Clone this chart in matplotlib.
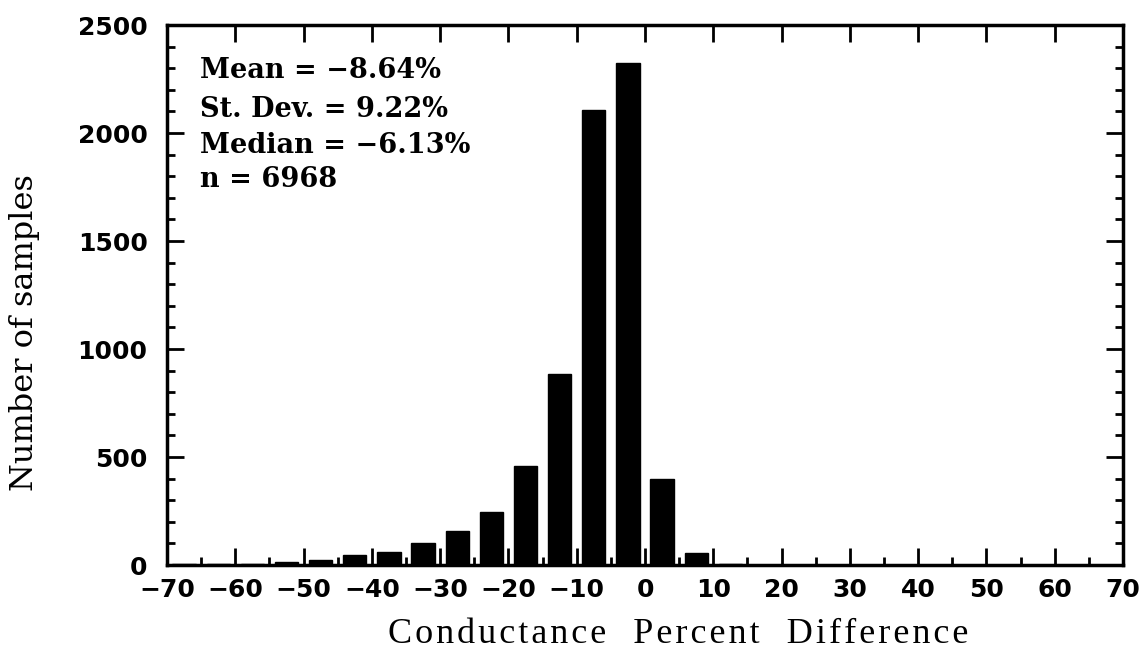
import matplotlib.pyplot as plt
from matplotlib.ticker import MultipleLocator

# histogram bins (percent difference, bin centres) and sample counts
bin_centers = [-67.5, -62.5, -57.5, -52.5, -47.5, -42.5, -37.5, -32.5, -27.5,
               -22.5, -17.5, -12.5, -7.5, -2.5, 2.5, 7.5, 12.5, 17.5]
counts = [4, 4, 5, 12, 25, 46, 59, 102, 158, 245, 460, 885, 2105, 2325, 400,
          55, 5, 2]

stats_lines = ['Mean = \u22128.64%', 'St. Dev. = 9.22%',
               'Median = \u22126.13%', 'n = 6968']

fig = plt.figure(figsize=(11.47, 6.59), dpi=100)
ax = fig.add_axes([0.1456, 0.1426, 0.8335, 0.8194])

ax.bar(bin_centers, counts, width=3.4, color='black', edgecolor='black')

ax.set_xlim(-70, 70)
ax.set_ylim(0, 2500)
ax.xaxis.set_major_locator(MultipleLocator(10))
ax.xaxis.set_minor_locator(MultipleLocator(5))
ax.yaxis.set_major_locator(MultipleLocator(500))
ax.yaxis.set_minor_locator(MultipleLocator(100))

ax.tick_params(which='both', direction='in', top=True, right=True, width=2)
ax.tick_params(which='major', length=12)
ax.tick_params(which='minor', length=6, top=False)
ax.tick_params(axis='y', which='minor', right=True)
ax.tick_params(axis='x', pad=9)
ax.tick_params(axis='y', pad=14)
for lab in ax.get_xticklabels() + ax.get_yticklabels():
    lab.set_fontfamily('DejaVu Sans')
    lab.set_fontweight('bold')
    lab.set_fontsize(18)

for sp in ax.spines.values():
    sp.set_linewidth(2.5)

# spaced-out lettering for the x label
hair = '\u200a'
xlab = '   '.join(hair.join(w) for w in ['Conductance', 'Percent', 'Difference'])
ax.set_xlabel(xlab, family=['Liberation Serif', 'DejaVu Serif'], fontsize=26)
ax.xaxis.set_label_coords(0.535, -0.098)
ax.set_ylabel('Number of samples', family='DejaVu Serif', fontsize=23)
ax.yaxis.set_label_coords(-0.133, 0.43)

ys = [0.902, 0.830, 0.763, 0.700]
for s, y in zip(stats_lines, ys):
    ax.text(0.035, y, s, transform=ax.transAxes, family='DejaVu Serif',
            fontweight='bold', fontsize=19.5, va='baseline', ha='left')

plt.savefig('out.png', dpi=100)
